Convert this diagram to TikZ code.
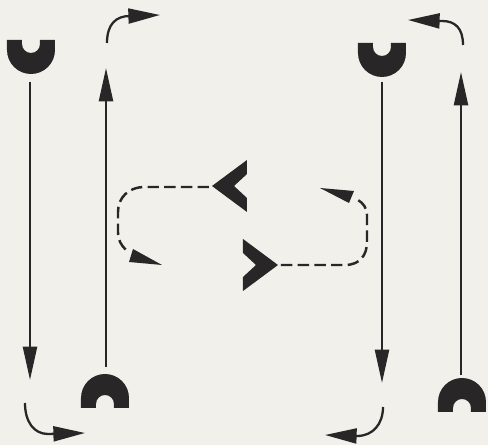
\documentclass[tikz,border=0pt]{standalone}
\usetikzlibrary{arrows.meta}

\definecolor{paper}{RGB}{241,240,235}
\definecolor{ink}{RGB}{40,38,38}

\begin{document}
\begin{tikzpicture}[
    x=0.02cm, y=-0.02cm,
    solid arrow/.style={draw=ink, line width=1.3pt, -{Triangle[length=19pt, width=8pt]}},
    bend arrow/.style={draw=ink, line width=1.3pt, -{Triangle[length=18pt, width=8.5pt]}},
    loop line/.style={draw=ink, line width=1.4pt, dash pattern=on 6.5pt off 3pt},
    cup/.pic={
        \fill[ink] (-24,0) -- (-24,10) arc[start angle=180, end angle=0, radius=24]
            -- (24,0) -- (9,0) -- (9,4) arc[start angle=0, end angle=180, radius=9]
            -- (-9,0) -- cycle;
    },
    chev/.pic={
        \fill[ink] (0,0) -- (35,-26) -- (35,-12) -- (22,0) -- (35,12) -- (35,26) -- cycle;
    }
]

    % paper
    \fill[paper] (0,0) rectangle (488,445);
    \useasboundingbox (0,0) rectangle (488,445);

    % Magnet ends (open cups)
    \pic at (31,40) {cup};
    \pic at (382,43) {cup};
    \pic[rotate=180] at (105,408) {cup};
    \pic[rotate=180] at (462,412) {cup};

    % Rotation chevrons
    \pic at (212,186) {chev};
    \pic[rotate=180] at (278,265) {chev};

    % Key points
    \coordinate (ltop) at (30,82);
    \coordinate (lbot) at (30,380);
    \coordinate (mbot) at (106,367);
    \coordinate (mtop) at (106,68);
    \coordinate (rtop) at (382,82);
    \coordinate (rbot) at (382,383);
    \coordinate (sbot) at (461,375);
    \coordinate (stop) at (461,72);

    % Straight runs
    \draw[solid arrow] (ltop) -- (lbot);
    \draw[solid arrow] (mbot) -- (mtop);
    \draw[solid arrow] (rtop) -- (rbot);
    \draw[solid arrow] (sbot) -- (stop);

    % Turning arrows at the corners
    \coordinate (tl0) at (107,43);
    \coordinate (tl1) at (160,15);
    \draw[bend arrow] (tl0) .. controls (107,24) and (116,16) .. (130,16) -- (tl1);

    \coordinate (tr0) at (463,45);
    \coordinate (tr1) at (408,20);
    \draw[bend arrow] (tr0) .. controls (463,28) and (455,21) .. (442,21) -- (tr1);

    \coordinate (bl0) at (25,403);
    \coordinate (bl1) at (85,433);
    \draw[bend arrow] (bl0) .. controls (25,422) and (34,434) .. (48,434) -- (bl1);

    \coordinate (br0) at (383,407);
    \coordinate (br1) at (325,435);
    \draw[bend arrow] (br0) .. controls (383,424) and (373,436) .. (357,436) -- (br1);

    % Dashed loops
    \coordinate (ll0) at (209,187);
    \coordinate (ll1) at (126,250);
    \draw[loop line] (ll0) -- (145,187) .. controls (128,187) and (118,198) .. (118,212)
        -- (118,232) .. controls (118,240) and (121,245) .. (ll1);
    \fill[ink] (133,249) -- (129,262) -- (162,265) -- cycle;

    \coordinate (rl0) at (281,265);
    \coordinate (rl1) at (358,200);
    \draw[loop line] (rl0) -- (345,265) .. controls (360,265) and (367,255) .. (367,242)
        -- (367,215) .. controls (367,208) and (363,203) .. (rl1);
    \fill[ink] (320,188) -- (354,191) -- (349,203) -- cycle;

\end{tikzpicture}
\end{document}
